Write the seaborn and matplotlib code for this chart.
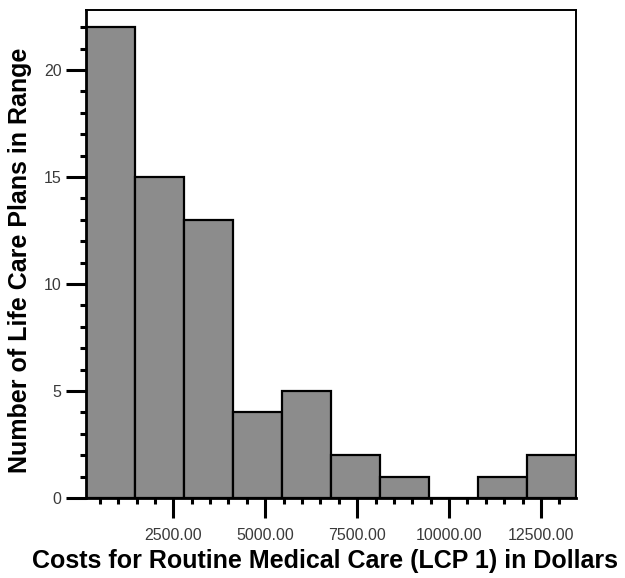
import seaborn as sns
import numpy as np
import matplotlib.pyplot as plt
from matplotlib.ticker import MultipleLocator, FixedLocator

# histogram: 10 bins, ~1333 dollars wide
bin_edges = [124, 1457, 2790, 4123, 5456, 6789, 8122, 9455, 10788, 12121, 13454]
counts = [22, 15, 13, 4, 5, 2, 1, 0, 1, 2]
x_ticks = [2500, 5000, 7500, 10000, 12500]
x_tick_labels = ['2500.00', '5000.00', '7500.00', '10000.00', '12500.00']
y_ticks = [0, 5, 10, 15, 20]

centers = [(bin_edges[i] + bin_edges[i + 1]) / 2 for i in range(len(counts))]

sns.set_style('white')
plt.rcParams['font.family'] = ['Liberation Sans', 'DejaVu Sans']

fig = plt.figure(figsize=(6.25, 5.78), dpi=100)
ax = fig.add_axes([0.1376, 0.1384, 0.784, 0.8443])

sns.histplot(x=centers, weights=counts, bins=bin_edges, ax=ax,
             color='#8c8c8c', alpha=1, edgecolor='black', linewidth=1.6)

ax.set_xlim(bin_edges[0], bin_edges[-1])
ax.set_ylim(0, 22.8)

ax.xaxis.set_major_locator(FixedLocator(x_ticks))
ax.set_xticklabels(x_tick_labels)
ax.xaxis.set_minor_locator(MultipleLocator(500))
ax.yaxis.set_major_locator(FixedLocator(y_ticks))
ax.yaxis.set_minor_locator(MultipleLocator(1))

ax.tick_params(axis='both', which='major', direction='out', length=14.5, width=2.2,
               color='black', labelsize=11.5, labelcolor='#3a3a3a')
ax.tick_params(axis='x', which='major', pad=7)
ax.tick_params(axis='y', which='major', pad=3)
ax.tick_params(axis='both', which='minor', direction='out', length=4, width=2.2,
               color='black')
ax.tick_params(axis='both', which='both', bottom=True, left=True, top=False, right=False)

for s in ax.spines.values():
    s.set_visible(True)
    s.set_color('black')
    s.set_linewidth(1.4)
ax.spines['left'].set_linewidth(2)
ax.spines['bottom'].set_linewidth(2)

ax.set_xlabel('')
ax.set_ylabel('')
fig.text(325 / 625, 1 - 568 / 578, 'Costs for Routine Medical Care (LCP 1) in Dollars',
         fontsize=18, fontweight='bold', color='black', ha='center', va='baseline')
fig.text(27 / 625, 1 - 260 / 578, 'Number of Life Care Plans in Range',
         fontsize=18, fontweight='bold', color='black', ha='center', va='baseline',
         rotation=90, rotation_mode='anchor')

fig.savefig('out.png', dpi=100)
